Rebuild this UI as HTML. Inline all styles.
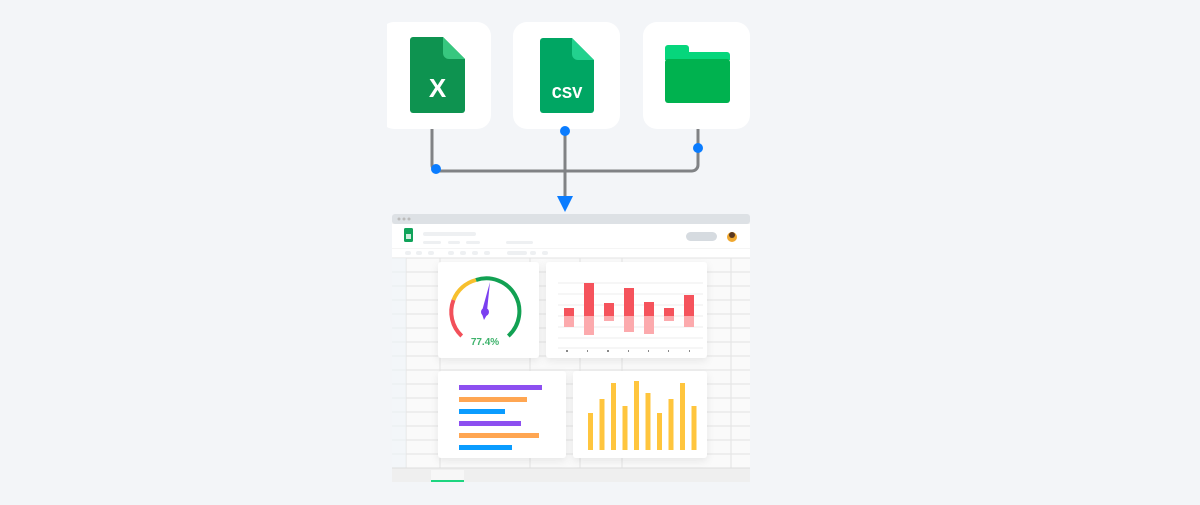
<!DOCTYPE html><html><head><style>body{margin:0;background:#f3f5f8;width:1200px;height:500px;overflow:hidden;font-family:"Liberation Sans",sans-serif}</style></head><body>
<svg width="1200" height="500" viewBox="0 0 1200 500" xmlns="http://www.w3.org/2000/svg">
<defs><filter id="sh" x="-20%" y="-20%" width="140%" height="150%"><feDropShadow dx="0" dy="3" stdDeviation="4" flood-color="#000" flood-opacity="0.08"/></filter></defs>
<rect width="1200" height="500" fill="#f3f5f8"/>
<!-- cards -->
<rect x="380" y="22" width="111" height="107" rx="14" fill="#fff"/>
<rect x="380" y="0" width="7" height="200" fill="#f3f5f8"/>
<rect x="513" y="22" width="107" height="107" rx="14" fill="#fff"/>
<rect x="643" y="22" width="107" height="107" rx="14" fill="#fff"/>
<!-- excel -->
<path d="M414 37 H443 L465 59 V110 a3 3 0 0 1 -3 3 H413 a3 3 0 0 1 -3 -3 V40 a3 3 0 0 1 3 -3Z" fill="#0e9350"/>
<path d="M443 37 V53 a6 6 0 0 0 6 6 H465Z" fill="#37c77f"/>
<text x="437.5" y="97" font-size="26" font-weight="bold" fill="#fff" text-anchor="middle">X</text>
<!-- csv -->
<path d="M543 38 H572 L594 60 V110 a3 3 0 0 1 -3 3 H543 a3 3 0 0 1 -3 -3 V41 a3 3 0 0 1 3 -3Z" fill="#00a663"/>
<path d="M572 38 V54 a6 6 0 0 0 6 6 H594Z" fill="#22d18e"/>
<text x="567" y="98" font-size="17" font-weight="bold" fill="#fff" text-anchor="middle" font-family="Liberation Mono,monospace">CSV</text>
<!-- folder -->
<path d="M668 45 H686 a3 3 0 0 1 3 3 V52 H727 a3 3 0 0 1 3 3 V60 H665 V48 a3 3 0 0 1 3 -3Z" fill="#06d67c"/>
<rect x="665" y="59" width="65" height="44" rx="3" fill="#00b24f"/>
<!-- connectors -->
<g stroke="#808285" stroke-width="3" fill="none">
<path d="M432 129 V165 a6 6 0 0 0 6 6 H692 a6 6 0 0 0 6 -6 V129"/>
<path d="M565 131 V200"/>
</g>
<circle cx="436" cy="169" r="5" fill="#0a7cff"/>
<circle cx="565" cy="131" r="5" fill="#0a7cff"/>
<circle cx="698" cy="148" r="5" fill="#0a7cff"/>
<path d="M557 196 H573 L565 212Z" fill="#0a7cff"/>
<!-- dashboard -->
<rect x="392" y="214" width="358" height="268" rx="4" fill="#f5f5f5"/>
<rect x="392" y="214" width="358" height="10" rx="3" fill="#dde1e5"/>
<circle cx="399" cy="219" r="1.5" fill="#bbb"/><circle cx="404" cy="219" r="1.5" fill="#bbb"/><circle cx="409" cy="219" r="1.5" fill="#bbb"/>
<rect x="392" y="224" width="358" height="24" fill="#fff"/>
<rect x="404" y="228" width="9" height="14" rx="1.5" fill="#10a35a"/>
<rect x="406" y="234" width="5" height="5" fill="#fff" opacity=".8"/>
<rect x="423" y="232" width="53" height="4" rx="2" fill="#eef0f2"/>
<rect x="423" y="241" width="18" height="3" rx="1.5" fill="#eef0f2"/><rect x="448" y="241" width="12" height="3" rx="1.5" fill="#eef0f2"/><rect x="466" y="241" width="14" height="3" rx="1.5" fill="#eef0f2"/><rect x="506" y="241" width="27" height="3" rx="1.5" fill="#eef0f2"/>
<rect x="686" y="232" width="31" height="9" rx="4.5" fill="#d6dbe0"/>
<circle cx="732" cy="237" r="5" fill="#f0a830"/><circle cx="732" cy="235" r="3" fill="#5a3820"/>
<rect x="392" y="249" width="358" height="9" fill="#fff"/>
<g fill="#eef0f2"><rect x="405" y="251" width="6" height="4" rx="2"/><rect x="416" y="251" width="6" height="4" rx="2"/><rect x="428" y="251" width="6" height="4" rx="2"/><rect x="448" y="251" width="6" height="4" rx="2"/><rect x="460" y="251" width="6" height="4" rx="2"/><rect x="472" y="251" width="6" height="4" rx="2"/><rect x="484" y="251" width="6" height="4" rx="2"/><rect x="507" y="251" width="20" height="4" rx="2"/><rect x="530" y="251" width="6" height="4" rx="2"/><rect x="542" y="251" width="6" height="4" rx="2"/></g>
<rect x="392" y="258" width="358" height="210" fill="#fafafa"/>
<g stroke="#e3e3e3" stroke-width="1">
<line x1="392" y1="258" x2="750" y2="258"/>
<line x1="392" y1="272" x2="750" y2="272"/><line x1="392" y1="286" x2="750" y2="286"/><line x1="392" y1="300" x2="750" y2="300"/><line x1="392" y1="314" x2="750" y2="314"/><line x1="392" y1="328" x2="750" y2="328"/><line x1="392" y1="342" x2="750" y2="342"/><line x1="392" y1="356" x2="750" y2="356"/><line x1="392" y1="370" x2="750" y2="370"/><line x1="392" y1="384" x2="750" y2="384"/><line x1="392" y1="398" x2="750" y2="398"/><line x1="392" y1="412" x2="750" y2="412"/><line x1="392" y1="426" x2="750" y2="426"/><line x1="392" y1="440" x2="750" y2="440"/><line x1="392" y1="454" x2="750" y2="454"/>
<line x1="406" y1="258" x2="406" y2="468"/><line x1="440" y1="258" x2="440" y2="468"/><line x1="530" y1="258" x2="530" y2="468"/><line x1="580" y1="258" x2="580" y2="468"/><line x1="622" y1="258" x2="622" y2="468"/><line x1="731" y1="258" x2="731" y2="468"/>
</g>
<rect x="392" y="258" width="14" height="210" fill="#eef3f8" opacity=".6"/>
<rect x="392" y="468" width="358" height="14" fill="#efefef"/>
<line x1="392" y1="468" x2="750" y2="468" stroke="#ddd"/>
<rect x="431" y="470" width="33" height="10" fill="#f7f7f7"/>
<rect x="431" y="480" width="33" height="2" fill="#1dd580"/>
<!-- gauge card -->
<rect x="438" y="262" width="101" height="96" rx="3" fill="#fff" filter="url(#sh)"/>
<g fill="none" stroke-width="4" stroke-linecap="butt">
<path d="M461.7 336 A33 33 0 0 1 453.5 300" stroke="#f2505a"/>
<path d="M453.5 300 A33 33 0 0 1 476 280" stroke="#f7c02e"/>
<path d="M476 280 A33 33 0 0 1 508.3 336" stroke="#12a153"/>
</g>
<path d="M490 282 L487 311 L482 311Z" fill="#7b3ff0"/>
<circle cx="485" cy="312" r="4" fill="#7b3ff0"/>
<path d="M482 314 L484 320 L488 313Z" fill="#7b3ff0"/>
<text x="485" y="345" font-size="10" font-weight="bold" fill="#3fb36c" text-anchor="middle">77.4%</text>
<!-- bar chart card -->
<rect x="546" y="262" width="161" height="96" rx="3" fill="#fff" filter="url(#sh)"/>
<g stroke="#eeeeee"><line x1="558" y1="283" x2="703" y2="283"/><line x1="558" y1="294" x2="703" y2="294"/><line x1="558" y1="305" x2="703" y2="305"/><line x1="558" y1="316" x2="703" y2="316"/><line x1="558" y1="327" x2="703" y2="327"/><line x1="558" y1="338" x2="703" y2="338"/><line x1="558" y1="348" x2="703" y2="348"/></g>
<g fill="#f5535c"><rect x="564" y="308" width="10" height="8"/><rect x="584" y="283" width="10" height="33"/><rect x="604" y="303" width="10" height="13"/><rect x="624" y="288" width="10" height="28"/><rect x="644" y="302" width="10" height="14"/><rect x="664" y="308" width="10" height="8"/><rect x="684" y="295" width="10" height="21"/></g>
<g fill="#fcaaad"><rect x="564" y="316" width="10" height="11"/><rect x="584" y="316" width="10" height="19"/><rect x="604" y="316" width="10" height="5"/><rect x="624" y="316" width="10" height="16"/><rect x="644" y="316" width="10" height="18"/><rect x="664" y="316" width="10" height="5"/><rect x="684" y="316" width="10" height="11"/></g>
<g fill="#888"><rect x="566" y="350" width="2" height="2"/><rect x="587" y="350" width="1" height="2"/><rect x="607" y="350" width="2" height="2"/><rect x="628" y="350" width="1" height="2"/><rect x="648" y="350" width="1" height="2"/><rect x="668" y="350" width="1" height="2"/><rect x="689" y="350" width="1" height="2"/></g>
<!-- hbar card -->
<rect x="438" y="371" width="128" height="87" rx="3" fill="#fff" filter="url(#sh)"/>
<rect x="459" y="385" width="83" height="5" fill="#8d4ff0"/>
<rect x="459" y="397" width="68" height="5" fill="#ffa652"/>
<rect x="459" y="409" width="46" height="5" fill="#0a9cff"/>
<rect x="459" y="421" width="62" height="5" fill="#8d4ff0"/>
<rect x="459" y="433" width="80" height="5" fill="#ffa652"/>
<rect x="459" y="445" width="53" height="5" fill="#0a9cff"/>
<!-- yellow bars card -->
<rect x="573" y="371" width="134" height="87" rx="3" fill="#fff" filter="url(#sh)"/>
<g fill="#ffc53d"><rect x="588" y="413" width="5" height="37"/><rect x="599.5" y="399" width="5" height="51"/><rect x="611" y="383" width="5" height="67"/><rect x="622.5" y="406" width="5" height="44"/><rect x="634" y="381" width="5" height="69"/><rect x="645.5" y="393" width="5" height="57"/><rect x="657" y="413" width="5" height="37"/><rect x="668.5" y="399" width="5" height="51"/><rect x="680" y="383" width="5" height="67"/><rect x="691.5" y="406" width="5" height="44"/></g>
</svg>
</body></html>
